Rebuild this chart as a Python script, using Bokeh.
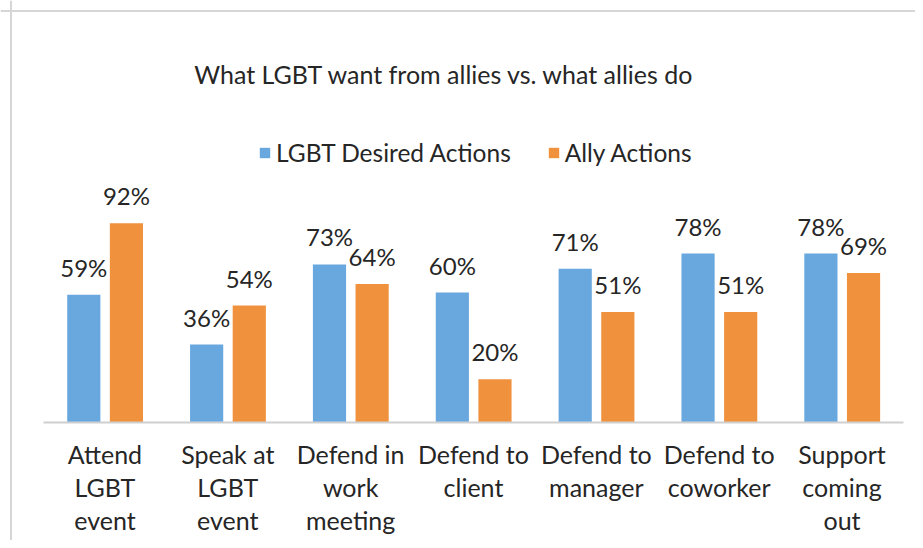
import numpy as np
from bokeh.plotting import figure
from bokeh.models import ColumnDataSource, Range1d, Span, Label, Legend, LegendItem
from bokeh.core.properties import value
from bokeh.embed import file_html
from bokeh.resources import INLINE

categories = ["Attend\nLGBT\nevent", "Speak at\nLGBT\nevent", "Defend in\nwork\nmeeting",
              "Defend to\nclient", "Defend to\nmanager", "Defend to\ncoworker", "Support\ncoming\nout"]
lgbt_desired = [0.59, 0.36, 0.73, 0.60, 0.71, 0.78, 0.78]
ally_actions = [0.92, 0.54, 0.64, 0.20, 0.51, 0.51, 0.69]
series_names = ["LGBT Desired Actions", "Ally Actions"]
title_text = "What LGBT want from allies vs. what allies do"

BLUE = "#69a8de"
ORANGE = "#f0913d"
TXT = "#262626"
FONT = "Lato"

W, H = 915, 540

idx = np.arange(len(categories))
src = ColumnDataSource(dict(
    x=idx, cat=categories,
    xb=idx - 0.172, xo=idx + 0.175,
    lg=lgbt_desired, al=ally_actions,
    lgl=[f"{round(v*100)}%" for v in lgbt_desired],
    all=[f"{round(v*100)}%" for v in ally_actions],
    lgy=[v + 0.127 for v in lgbt_desired],
    aly=[v + 0.127 for v in ally_actions],
))

p = figure(width=W, height=H, output_backend="svg", toolbar_location=None,
           x_range=Range1d(-0.85, 6.598), y_range=Range1d(-0.545, 1.949),
           x_axis_location=None, y_axis_location=None, min_border=0,
           outline_line_color=None, background_fill_color="white", border_fill_color="white")
p.grid.visible = False

rb = p.vbar(x="xb", top="lg", width=0.27, source=src, fill_color=BLUE, line_color=None)
ro = p.vbar(x="xo", top="al", width=0.27, source=src, fill_color=ORANGE, line_color=None)

# baseline
p.line(x=[-0.5, len(categories) - 0.5], y=[0, 0], line_color="#cfcfcf", line_width=2)

p.text(x="xb", y="lgy", text="lgl", source=src, text_align="center", text_baseline="alphabetic",
       text_font=value(FONT), text_font_size="24px", text_color=TXT)
p.text(x="xo", y="aly", text="all", source=src, text_align="center", text_baseline="alphabetic",
       text_font=value(FONT), text_font_size="24px", text_color=TXT)

p.text(x="x", y=-0.074, text="cat", source=src, text_align="center", text_baseline="top",
       text_font=value(FONT), text_font_size="25px", text_color=TXT, text_line_height=1.1)

p.add_layout(Label(x=444, y=467, x_units="screen", y_units="screen", text=title_text,
                   text_align="center", text_baseline="alphabetic", text_font=FONT,
                   text_font_size="25px", text_color=TXT))

legend = Legend(items=[LegendItem(label=series_names[0], renderers=[rb]),
                       LegendItem(label=series_names[1], renderers=[ro])],
                orientation="horizontal", location=(258, 373), glyph_width=13, glyph_height=13,
                label_text_font=FONT, label_text_font_size="24.5px", label_text_color=TXT,
                label_standoff=5, spacing=36, padding=0, margin=0,
                border_line_color=None, background_fill_alpha=0)
p.add_layout(legend)

p.add_layout(Span(location=10.5, location_units="screen", dimension="height",
                  line_color="#d6d6d6", line_width=2))
p.add_layout(Span(location=H - 10.5, location_units="screen", dimension="width",
                  line_color="#d6d6d6", line_width=2))

open("out.html", "w").write(file_html(p, INLINE))
